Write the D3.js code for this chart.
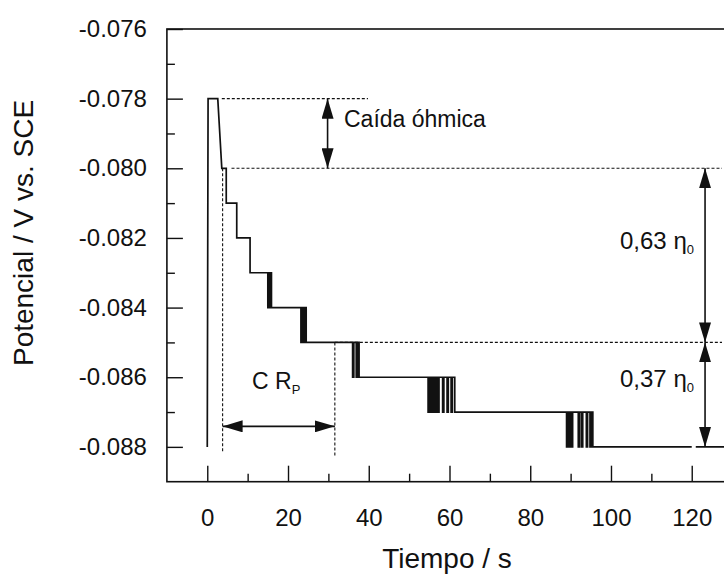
<!DOCTYPE html>
<html>
<head>
<meta charset="utf-8">
<script src="https://cdn.jsdelivr.net/npm/d3@7"></script>
<style>
  body { margin: 0; background: #fff; }
  svg { display: block; }
  text { font-family: "Liberation Sans", Arial, Helvetica, sans-serif; fill: #111; }
</style>
</head>
<body>
<svg id="chart" width="724" height="576"></svg>
<script>
// ---------------- DATA ----------------
// Potential transient (vertices of the recorded trace, time in s, potential in V vs. SCE)
const timeS = [
  0, 0.2, 2.6, 3.6, 4.7, 4.7, 7.3, 7.3, 10.6, 10.6,
  15.0, 15.0, 15.3, 15.3, 15.5, 15.5, 15.7, 15.7, 15.9, 15.9,
  23.2, 23.2, 23.5, 23.5, 23.8, 23.8, 24.1, 24.1, 24.5, 24.5,
  36.0, 36.0, 36.3, 36.3, 36.9, 36.9, 37.2, 37.2, 37.6, 37.6,
  54.7, 54.7, 55.0, 55.0, 55.2, 55.2, 55.5, 55.5, 55.7, 55.7, 56.0, 56.0,
  56.3, 56.3, 56.6, 56.6, 57.0, 57.0, 57.4, 57.4, 58.3, 58.3, 58.6, 58.6,
  59.4, 59.4, 59.7, 59.7, 60.4, 60.4, 60.7, 60.7, 61.3, 61.3,
  89.0, 89.0, 89.3, 89.3, 89.6, 89.6, 89.9, 89.9, 90.2, 90.2, 90.5, 90.5,
  91.9, 91.9, 92.2, 92.2, 92.7, 92.7, 93.0, 93.0, 93.9, 93.9, 94.2, 94.2,
  94.8, 94.8, 95.1, 95.1, 95.5, 95.5,
  120.0
];
const potentialV = [
  -0.088, -0.078, -0.078, -0.080, -0.080, -0.081, -0.081, -0.082, -0.082, -0.083,
  -0.083, -0.084, -0.084, -0.083, -0.083, -0.084, -0.084, -0.083, -0.083, -0.084,
  -0.084, -0.085, -0.085, -0.084, -0.084, -0.085, -0.085, -0.084, -0.084, -0.085,
  -0.085, -0.086, -0.086, -0.085, -0.085, -0.086, -0.086, -0.085, -0.085, -0.086,
  -0.086, -0.087, -0.087, -0.086, -0.086, -0.087, -0.087, -0.086, -0.086, -0.087, -0.087, -0.086,
  -0.086, -0.087, -0.087, -0.086, -0.086, -0.087, -0.087, -0.086, -0.086, -0.087, -0.087, -0.086,
  -0.086, -0.087, -0.087, -0.086, -0.086, -0.087, -0.087, -0.086, -0.086, -0.087,
  -0.087, -0.088, -0.088, -0.087, -0.087, -0.088, -0.088, -0.087, -0.087, -0.088, -0.088, -0.087,
  -0.087, -0.088, -0.088, -0.087, -0.087, -0.088, -0.088, -0.087, -0.087, -0.088, -0.088, -0.087,
  -0.087, -0.088, -0.088, -0.087, -0.087, -0.088,
  -0.088
];

// Axis ticks
const xMajorTicks = [0, 20, 40, 60, 80, 100, 120];
const xMinorTicks = [10, 30, 50, 70, 90, 110];
const yMajorTicks = [-0.088, -0.086, -0.084, -0.082, -0.080, -0.078, -0.076];
const yMinorTicks = [-0.087, -0.085, -0.083, -0.081, -0.079, -0.077];

// Horizontal dashed reference lines
const hRefLevels = [-0.078, -0.080, -0.085];
const hRefStarts = [3.6, 6.0, 31.6];
const hRefEnds   = [39.8, 127.5, 127.5];
// Vertical dashed lines
const vRefTimes   = [3.8, 31.6];
const vRefTops    = [-0.080, -0.085];
const vRefBottoms = [-0.08815, -0.08825];
// Short solid baseline at the final level
const endLevel = -0.088, endStart = 121.0, endEnd = 130;

// Double arrows
const ohmicArrowT = 29.8, ohmicFrom = -0.078, ohmicTo = -0.080;
const crpArrowV = -0.08741, crpFrom = 3.8, crpTo = 31.6;
const etaArrowT = 123.3, etaLevels = [-0.080, -0.085, -0.088];

// ---------------- CHART ----------------
const svg = d3.select("#chart");
const x = d3.scaleLinear().domain([-10, 130]).range([166.9, 732.1]);
const y = d3.scaleLinear().domain([-0.089, -0.076]).range([481.7, 29]);
const ink = "#111";

// markers
const defs = svg.append("defs");
defs.append("marker")
  .attr("id", "ah").attr("viewBox", "0 0 20 12")
  .attr("refX", 20).attr("refY", 6)
  .attr("markerWidth", 20).attr("markerHeight", 12)
  .attr("markerUnits", "userSpaceOnUse")
  .attr("orient", "auto-start-reverse")
  .append("path").attr("d", "M0,0 L20,6 L0,12 Z").attr("fill", ink);

// frame
svg.append("rect")
  .attr("x", x(-10)).attr("y", y(-0.076))
  .attr("width", x(130) - x(-10)).attr("height", y(-0.089) - y(-0.076))
  .attr("fill", "none").attr("stroke", ink).attr("stroke-width", 1.6);

// axes
const fs = 24;
const gx = svg.append("g").attr("transform", `translate(0,${y(-0.089)})`)
  .call(d3.axisBottom(x).tickValues(xMajorTicks).tickSize(-16).tickPadding(27).tickFormat(d3.format("d")));
const gxm = svg.append("g").attr("transform", `translate(0,${y(-0.089)})`)
  .call(d3.axisBottom(x).tickValues(xMinorTicks).tickSize(-8).tickFormat(""));
const gy = svg.append("g").attr("transform", `translate(${x(-10)},0)`)
  .call(d3.axisLeft(y).tickValues(yMajorTicks).tickSize(-16).tickPadding(20).tickFormat(d => d.toFixed(3)));
const gym = svg.append("g").attr("transform", `translate(${x(-10)},0)`)
  .call(d3.axisLeft(y).tickValues(yMinorTicks).tickSize(-8).tickFormat(""));
[gx, gxm, gy, gym].forEach(g => {
  g.select(".domain").remove();
  g.selectAll(".tick line").attr("stroke", ink).attr("stroke-width", 1.4);
  g.selectAll("text").attr("font-size", fs).attr("fill", ink)
    .style("font-family", '"Liberation Sans", Arial, sans-serif');
});

// axis titles
svg.append("text").attr("x", 447).attr("y", 568).attr("text-anchor", "middle")
  .attr("font-size", 28).text("Tiempo / s");
svg.append("text").attr("transform", "translate(33,233) rotate(-90)")
  .attr("text-anchor", "middle").attr("font-size", 28).text("Potencial / V vs. SCE");

// dashed reference lines
const dash = "3,2";
hRefLevels.forEach((lv, i) => {
  svg.append("line")
    .attr("x1", x(hRefStarts[i])).attr("x2", x(hRefEnds[i]))
    .attr("y1", y(lv)).attr("y2", y(lv))
    .attr("stroke", ink).attr("stroke-width", 1.1).attr("stroke-dasharray", dash);
});
vRefTimes.forEach((t, i) => {
  svg.append("line")
    .attr("x1", x(t)).attr("x2", x(t))
    .attr("y1", y(vRefTops[i])).attr("y2", y(vRefBottoms[i]))
    .attr("stroke", ink).attr("stroke-width", 1.1).attr("stroke-dasharray", dash);
});
svg.append("line")
  .attr("x1", x(endStart)).attr("x2", x(endEnd))
  .attr("y1", y(endLevel)).attr("y2", y(endLevel))
  .attr("stroke", ink).attr("stroke-width", 1.6);

// data trace
const pts = timeS.map((t, i) => [t, potentialV[i]]);
svg.append("path")
  .datum(pts)
  .attr("fill", "none").attr("stroke", ink).attr("stroke-width", 1.7)
  .attr("stroke-linejoin", "miter")
  .attr("d", d3.line().x(d => x(d[0])).y(d => y(d[1])));

// arrows
function dblArrow(x1, y1, x2, y2) {
  svg.append("line").attr("x1", x1).attr("y1", y1).attr("x2", x2).attr("y2", y2)
    .attr("stroke", ink).attr("stroke-width", 1.6)
    .attr("marker-start", "url(#ah)").attr("marker-end", "url(#ah)");
}
dblArrow(x(ohmicArrowT), y(ohmicFrom), x(ohmicArrowT), y(ohmicTo));
dblArrow(x(crpFrom), y(crpArrowV), x(crpTo), y(crpArrowV));
dblArrow(x(etaArrowT), y(etaLevels[0]), x(etaArrowT), y(etaLevels[1]));
dblArrow(x(etaArrowT), y(etaLevels[1]), x(etaArrowT), y(etaLevels[2]));

// annotations
svg.append("text").attr("x", 344).attr("y", 127).attr("font-size", 23).text("Caída óhmica");

function labelWithSub(xp, yp, main, sub, size, subSize) {
  const t = svg.append("text").attr("x", xp).attr("y", yp).attr("font-size", size);
  t.append("tspan").text(main);
  t.append("tspan").attr("font-size", subSize).attr("dy", 5).text(sub);
}
labelWithSub(620, 249, "0,63 η", "0", 24, 13);
labelWithSub(620, 387, "0,37 η", "0", 24, 13);
labelWithSub(252, 389, "C R", "P", 23, 13);
</script>
</body>
</html>
